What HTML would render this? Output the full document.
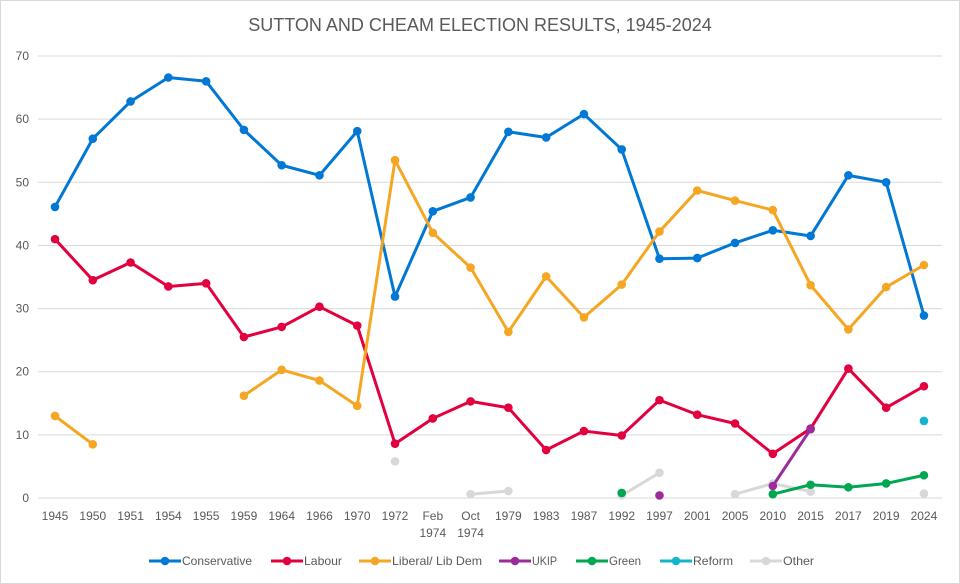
<!DOCTYPE html><html><head><meta charset="utf-8"><style>body{margin:0;background:#fff}svg{display:block}</style></head><body>
<svg id="s" width="960" height="584" xmlns="http://www.w3.org/2000/svg" font-family="Liberation Sans, sans-serif">
<rect x="0.5" y="0.5" width="959" height="583" fill="#fff" stroke="#d9d9d9"/>
<text x="480" y="31" text-anchor="middle" font-size="18" fill="#595959">SUTTON AND CHEAM ELECTION RESULTS, 1945-2024</text>
<g id="g"></g>
</svg>
<script>
const g=document.getElementById('g');let h='';
const Y=v=>498-v*6.314;
for(let i=0;i<=7;i++){const y=Y(i*10);h+=`<line x1="38" x2="942" y1="${y}" y2="${y}" stroke="#d9d9d9"/><text x="29" y="${y+4}" text-anchor="end" font-size="12" fill="#595959">${i*10}</text>`;}
const L=['1945','1950','1951','1954','1955','1959','1964','1966','1970','1972','Feb|1974','Oct|1974','1979','1983','1987','1992','1997','2001','2005','2010','2015','2017','2019','2024'];
const X=i=>55+i*37.78;
L.forEach((l,i)=>{const p=l.split('|');p.forEach((t,k)=>h+=`<text x="${X(i)}" y="${520+k*17}" text-anchor="middle" font-size="12" fill="#595959">${t}</text>`)});
const N=null;
const S=[
['#0078d4',[46.1,56.9,62.8,66.6,66.0,58.3,52.7,51.1,58.1,31.9,45.4,47.6,58.0,57.1,60.8,55.2,37.9,38.0,40.4,42.4,41.5,51.1,50.0,28.9]],
['#e3003f',[41.0,34.5,37.3,33.5,34.0,25.5,27.1,30.3,27.3,8.6,12.6,15.3,14.3,7.6,10.6,9.9,15.5,13.2,11.8,7.0,11.0,20.5,14.3,17.7]],
['#f5a623',[13.0,8.5,N,N,N,16.2,20.3,18.6,14.6,53.5,42.0,36.5,26.3,35.1,28.6,33.8,42.2,48.7,47.1,45.6,33.7,26.7,33.4,36.9]],
['#d8d8d8',[N,N,N,N,N,N,N,N,N,5.8,N,0.6,1.1,N,N,0.4,4.0,N,0.6,2.3,1.0,N,N,0.7]],
['#9b2d9b',[N,N,N,N,N,N,N,N,N,N,N,N,N,N,N,N,0.4,N,N,1.9,10.9,N,N,N]],
['#00a651',[N,N,N,N,N,N,N,N,N,N,N,N,N,N,N,0.8,N,N,N,0.6,2.1,1.7,2.3,3.6]],
['#12b5cb',[N,N,N,N,N,N,N,N,N,N,N,N,N,N,N,N,N,N,N,N,N,N,N,12.2]]];
S.forEach(([c,v])=>{let seg=[];const fl=()=>{if(seg.length>1)h+=`<polyline fill="none" stroke="${c}" stroke-width="3" stroke-linejoin="round" points="${seg.join(' ')}"/>`;seg=[]};
v.forEach((y,i)=>{if(y==null)fl();else seg.push(X(i)+','+Y(y))});fl();
v.forEach((y,i)=>{if(y!=null)h+=`<circle cx="${X(i)}" cy="${Y(y)}" r="4.3" fill="${c}"/>`});});
const lg=[['Conservative','#0078d4',165,70],['Labour','#e3003f',287,38],['Liberal/ Lib  Dem','#f5a623',375,90],['UKIP','#9b2d9b',515,25],['Green','#00a651',592,32],['Reform','#12b5cb',676,40],['Other','#d8d8d8',766,31]];
lg.forEach(([t,c,x,w])=>{h+=`<line x1="${x-16}" x2="${x+16}" y1="561" y2="561" stroke="${c}" stroke-width="3"/><circle cx="${x}" cy="561" r="4.3" fill="${c}"/><text x="${x+17}" y="565" font-size="12" fill="#595959" textLength="${w}" lengthAdjust="spacingAndGlyphs">${t}</text>`});
g.innerHTML=h;
</script>
</body></html>
